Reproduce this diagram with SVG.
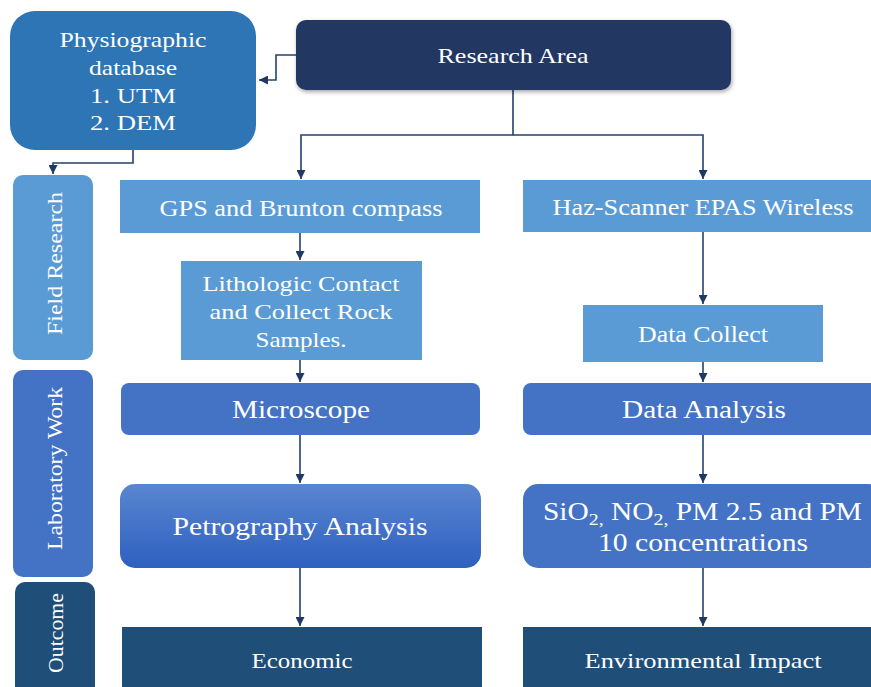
<svg xmlns="http://www.w3.org/2000/svg" width="871" height="687" viewBox="0 0 871 687">
<style>
text { font-family: "Liberation Serif", "Times New Roman", serif; fill: #ffffff; text-anchor: middle; }
.conn { fill: none; stroke: #24406e; stroke-width: 1.6; }
.light { fill: #5b9bd5; }
.mid { fill: #4472c4; }
.dark { fill: #1f4e79; }
</style>
<defs>
<marker id="arr" markerUnits="userSpaceOnUse" markerWidth="10" markerHeight="9" refX="9" refY="4.5" orient="auto">
<path d="M0,0 L9,4.5 L0,9 z" fill="#1f3864"/>
</marker>
<linearGradient id="petro" x1="0" y1="0" x2="0" y2="1">
<stop offset="0" stop-color="#5a85d0"/>
<stop offset="1" stop-color="#2d60bf"/>
</linearGradient>
<filter id="sh" x="-5%" y="-10%" width="110%" height="130%">
<feDropShadow dx="1" dy="2" stdDeviation="2" flood-color="#000" flood-opacity="0.35"/>
</filter>
</defs>

<g id="connectors">
<path class="conn" d="M296,55 H276 V80 H259" marker-end="url(#arr)"/>
<path class="conn" d="M133,150 V163 H53 V174" marker-end="url(#arr)"/>
<path class="conn" d="M513,90 V135 H301 V179" marker-end="url(#arr)"/>
<path class="conn" d="M513,135 H703 V179" marker-end="url(#arr)"/>
<path class="conn" d="M300,233 V260" marker-end="url(#arr)"/>
<path class="conn" d="M300,360 V382" marker-end="url(#arr)"/>
<path class="conn" d="M300,435 V483" marker-end="url(#arr)"/>
<path class="conn" d="M300,568 V626" marker-end="url(#arr)"/>
<path class="conn" d="M703,232 V304" marker-end="url(#arr)"/>
<path class="conn" d="M703,362 V382" marker-end="url(#arr)"/>
<path class="conn" d="M703,435 V483" marker-end="url(#arr)"/>
<path class="conn" d="M703,568 V626" marker-end="url(#arr)"/>
</g>

<g id="physiographic">
<rect x="10" y="11" width="246" height="139" rx="25" fill="#2e75b6"/>
<text x="133" y="47" font-size="22" textLength="147" lengthAdjust="spacingAndGlyphs">Physiographic</text>
<text x="133" y="75" font-size="22" textLength="88" lengthAdjust="spacingAndGlyphs">database</text>
<text x="133" y="103" font-size="22" textLength="86" lengthAdjust="spacingAndGlyphs">1. UTM</text>
<text x="133" y="130" font-size="22" textLength="86" lengthAdjust="spacingAndGlyphs">2. DEM</text>
</g>

<g id="research-area">
<rect x="296" y="20" width="435" height="70" rx="10" fill="#203864" filter="url(#sh)"/>
<text x="513" y="63" font-size="22" textLength="151" lengthAdjust="spacingAndGlyphs">Research Area</text>
</g>

<g id="field-research">
<rect x="13" y="175" width="80" height="185" rx="10" class="light"/>
<text transform="translate(62,263.5) rotate(-90)" font-size="21" textLength="143" lengthAdjust="spacingAndGlyphs">Field Research</text>
</g>

<g id="laboratory-work">
<rect x="13" y="370" width="80" height="207" rx="10" class="mid"/>
<text transform="translate(62,468.5) rotate(-90)" font-size="21" textLength="163" lengthAdjust="spacingAndGlyphs">Laboratory Work</text>
</g>

<g id="outcome">
<rect x="15" y="582" width="80" height="120" rx="10" class="dark"/>
<text transform="translate(63,633) rotate(-90)" font-size="21" textLength="80" lengthAdjust="spacingAndGlyphs">Outcome</text>
</g>

<g id="gps">
<rect x="120" y="180" width="360" height="53" class="light"/>
<text x="301" y="216" font-size="23" textLength="283" lengthAdjust="spacingAndGlyphs">GPS and Brunton compass</text>
</g>

<g id="lithologic">
<rect x="181" y="261" width="241" height="99" class="light"/>
<text x="301" y="291" font-size="22" textLength="197" lengthAdjust="spacingAndGlyphs">Lithologic Contact</text>
<text x="301" y="319" font-size="22" textLength="183" lengthAdjust="spacingAndGlyphs">and Collect Rock</text>
<text x="301" y="347" font-size="22" textLength="91" lengthAdjust="spacingAndGlyphs">Samples.</text>
</g>

<g id="microscope">
<rect x="121" y="383" width="359" height="52" rx="8" class="mid"/>
<text x="301" y="418" font-size="25" textLength="138" lengthAdjust="spacingAndGlyphs">Microscope</text>
</g>

<g id="petrography">
<rect x="120" y="484" width="361" height="84" rx="15" fill="url(#petro)"/>
<text x="300" y="535" font-size="25" textLength="255" lengthAdjust="spacingAndGlyphs">Petrography Analysis</text>
</g>

<g id="economic">
<rect x="122" y="627" width="360" height="70" class="dark"/>
<text x="302" y="668" font-size="21" textLength="101" lengthAdjust="spacingAndGlyphs">Economic</text>
</g>

<g id="haz-scanner">
<rect x="523" y="180" width="360" height="52" class="light"/>
<text x="703" y="215" font-size="23" textLength="301" lengthAdjust="spacingAndGlyphs">Haz-Scanner EPAS Wireless</text>
</g>

<g id="data-collect">
<rect x="583" y="305" width="240" height="57" class="light"/>
<text x="703" y="342" font-size="23" textLength="130" lengthAdjust="spacingAndGlyphs">Data Collect</text>
</g>

<g id="data-analysis">
<rect x="523" y="383" width="360" height="52" rx="8" class="mid"/>
<text x="704" y="418" font-size="25" textLength="164" lengthAdjust="spacingAndGlyphs">Data Analysis</text>
</g>

<g id="concentrations">
<rect x="523" y="484" width="360" height="84" rx="15" class="mid"/>
<text x="543" y="520" font-size="25" style="text-anchor:start" textLength="319" lengthAdjust="spacingAndGlyphs">SiO<tspan font-size="17" dy="5">2,</tspan><tspan dy="-5"> NO</tspan><tspan font-size="17" dy="5">2,</tspan><tspan dy="-5"> PM 2.5 and PM</tspan></text>
<text x="703" y="551" font-size="25" textLength="210" lengthAdjust="spacingAndGlyphs">10 concentrations</text>
</g>

<g id="environmental-impact">
<rect x="523" y="627" width="360" height="70" class="dark"/>
<text x="703" y="668" font-size="21" textLength="237" lengthAdjust="spacingAndGlyphs">Environmental Impact</text>
</g>
</svg>
